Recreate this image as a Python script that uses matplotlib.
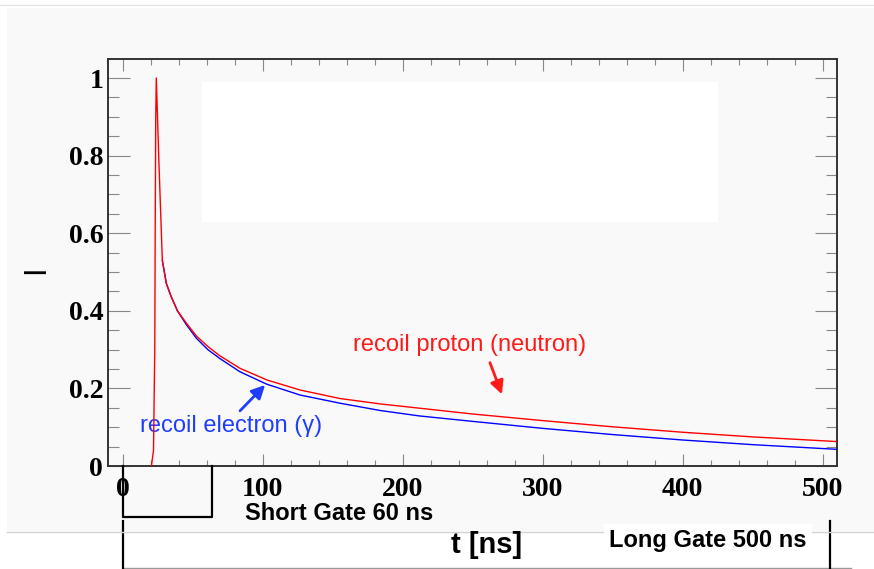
import matplotlib
matplotlib.use("Agg")
import matplotlib.pyplot as plt
from matplotlib.patches import Rectangle
from matplotlib.lines import Line2D
from matplotlib.ticker import MultipleLocator, FuncFormatter

# pulse shapes (t in ns, normalised intensity)
t_proton = [20.5, 22.0, 22.9, 23.2, 23.6, 24.0, 25.8, 28.3, 31.2, 34.8, 39.1, 45.5, 52.7,
            60.8, 69.4, 83.7, 102.8, 126.6, 155, 184, 212, 250, 300, 350, 400, 450, 510]
i_proton = [0.0, 0.04, 0.30, 0.60, 0.90, 1.00, 0.79, 0.53, 0.47, 0.435, 0.40, 0.368, 0.335,
            0.308, 0.284, 0.252, 0.222, 0.196, 0.174, 0.160, 0.149, 0.134, 0.117, 0.101, 0.087, 0.075, 0.063]
# electron curve is hidden under the proton one until the tail splits off
t_electron = [28.3, 31.2, 34.8, 39.1, 45.5, 52.7, 60.8, 69.4, 83.7, 102.8, 126.6, 155,
              184, 212, 250, 300, 350, 400, 450, 510]
i_electron = [0.53, 0.47, 0.435, 0.40, 0.364, 0.329, 0.300, 0.277, 0.243, 0.211, 0.183, 0.162,
              0.143, 0.129, 0.115, 0.097, 0.081, 0.067, 0.055, 0.043]

short_gate = [0, 64]     # drawn gate edges, ns
long_gate = [0, 505]
short_label = "Short Gate 60 ns"
long_label = "Long Gate 500 ns"

RED, BLUE = "#ff0000", "#0000ff"
TXT_RED, TXT_BLUE = "#ff1a1a", "#1f3dff"

fig = plt.figure(figsize=(8.74, 5.69), dpi=100)
fig.patch.set_facecolor("white")
# light grey canvas + thin borders
fig.patches.append(Rectangle((7/874, 38/569), 1 - 7/874, 523/569, transform=fig.transFigure,
                             facecolor="#f9f9f9", edgecolor="none", zorder=-10))
fig.lines.append(Line2D([0, 1], [564/569, 564/569], transform=fig.transFigure, color="#e4e4e4", lw=1))
fig.lines.append(Line2D([7/874, 1], [37.5/569, 37.5/569], transform=fig.transFigure, color="#d2d2d2", lw=1))

ax = fig.add_axes([108/874, 103/569, 729/874, 407/569])
ax.set_facecolor("#f9f9f9")
ax.set_xlim(-10.5, 510.2)
ax.set_ylim(0, 1.049)

# blanked-out box inside the frame
ax.add_patch(Rectangle((56.5, 0.629), 369, 0.361, facecolor="white", edgecolor="none", zorder=1))

ax.plot(t_electron, i_electron, color=BLUE, lw=1.0, zorder=3)
ax.plot(t_proton, i_proton, color=RED, lw=1.0, zorder=4)

for s in ax.spines.values():
    s.set_color("#333333"); s.set_linewidth(1.4)

ax.xaxis.set_major_locator(MultipleLocator(100))
ax.xaxis.set_minor_locator(MultipleLocator(20))
ax.yaxis.set_major_locator(MultipleLocator(0.2))
ax.yaxis.set_minor_locator(MultipleLocator(0.05))
ax.yaxis.set_major_formatter(FuncFormatter(lambda v, p: f"{v:g}"))
ax.tick_params(axis="both", which="both", direction="in", color="#888888", width=0.8,
               top=True, right=True)
ax.tick_params(axis="x", which="major", length=8.6, pad=8)
ax.tick_params(axis="x", which="minor", length=4.3)
ax.tick_params(axis="y", which="major", length=15.8, pad=3.5)
ax.tick_params(axis="y", which="minor", length=7.9)
for lab in ax.get_xticklabels() + ax.get_yticklabels():
    lab.set_fontfamily("Liberation Serif"); lab.set_fontweight("bold"); lab.set_fontsize(20)

# annotations
ax.text(247.4, 0.312, "recoil proton (neutron)", color=TXT_RED, fontsize=17,
        family="Liberation Sans", ha="center", va="center")
ax.annotate("", xy=(271.6, 0.178), xytext=(261.6, 0.273),
            arrowprops=dict(arrowstyle="-|>", color=TXT_RED, lw=2, mutation_scale=20))
ax.text(77.7, 0.103, "recoil electron (γ)", color=TXT_BLUE, fontsize=17,
        family="Liberation Sans", ha="center", va="center")
ax.annotate("", xy=(103.1, 0.214), xytext=(82.4, 0.137),
            arrowprops=dict(arrowstyle="-|>", color=TXT_BLUE, lw=2, mutation_scale=20))

# gate brackets below the axis
ax.plot([short_gate[0], short_gate[0], short_gate[1], short_gate[1]], [0, -0.131, -0.131, 0],
        color="black", lw=1.6, clip_on=False, zorder=10)
ax.plot([long_gate[0], long_gate[0]], [-0.142, -0.27], color="black", lw=1.6, clip_on=False, zorder=10)
ax.plot([long_gate[1], long_gate[1]], [-0.142, -0.27], color="black", lw=1.6, clip_on=False, zorder=10)
ax.plot([long_gate[0], 520], [-0.263, -0.263], color="#999999", lw=1, clip_on=False, zorder=9)

fig.text(339/874, 1 - 514/569, short_label, fontsize=17, fontweight="bold",
         family="Liberation Sans", ha="center", va="center")
fig.text(708/874, 1 - 541/569, long_label, fontsize=17, fontweight="bold",
         family="Liberation Sans", ha="center", va="center",
         bbox=dict(facecolor="white", edgecolor="none", pad=4))

fig.text(487/874, 1 - 545/569, "t [ns]", fontsize=21, fontweight="bold",
         family="Liberation Sans", ha="center", va="center")
fig.text(36/874, 1 - 270/569, "I", fontsize=22, family="Liberation Sans",
         rotation=90, ha="center", va="center")

fig.savefig("out.png", dpi=100)
